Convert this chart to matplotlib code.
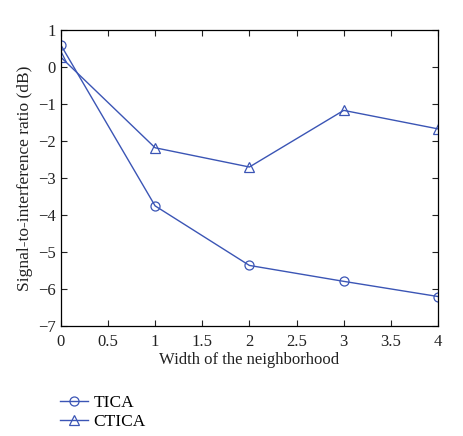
import matplotlib
matplotlib.use('Agg')
import matplotlib.pyplot as plt

plt.rcParams['font.family'] = ['Liberation Serif', 'DejaVu Serif']
plt.rcParams['font.size'] = 12

widths = [0, 1, 2, 3, 4]
tica = [0.6, -3.75, -5.36, -5.79, -6.2]
ctica = [0.27, -2.18, -2.7, -1.17, -1.67]

color = '#3b55b5'

fig = plt.figure(figsize=(4.64, 4.36), dpi=100)
ax = fig.add_axes([0.131, 0.252, 0.813, 0.679])
l1, = ax.plot(widths, tica, '-o', color=color, lw=1, ms=6.5, mfc='none', mew=0.9, label='TICA')
l2, = ax.plot(widths, ctica, '-^', color=color, lw=1, ms=7, mfc='none', mew=0.9, label='CTICA')

ax.set_xlim(0, 4)
ax.set_ylim(-7, 1)
ax.set_xticks([0, 0.5, 1, 1.5, 2, 2.5, 3, 3.5, 4])
ax.set_xticklabels(['0', '0.5', '1', '1.5', '2', '2.5', '3', '3.5', '4'])
ax.set_yticks(range(-7, 2))
ax.set_yticklabels([str(v).replace('-', '\u2212') for v in range(-7, 2)])
ax.tick_params(direction='in', top=True, right=True, length=4, width=0.8, labelsize=12, colors='#222222')
ax.tick_params(axis='x', pad=6)
for s in ax.spines.values():
    s.set_linewidth(0.9)
ax.set_xlabel('Width of the neighborhood', fontsize=12, color='#222222', labelpad=1)
ax.set_ylabel('Signal-to-interference ratio (dB)', fontsize=12.5, color='#222222')

fig.legend(handles=[l1, l2], loc='upper left', bbox_to_anchor=(0.115, 0.11),
           frameon=False, fontsize=12.5, handlelength=1.6, handletextpad=0.3,
           labelspacing=0.15, borderaxespad=0)

plt.savefig('out.png', dpi=100)
plt.close()
